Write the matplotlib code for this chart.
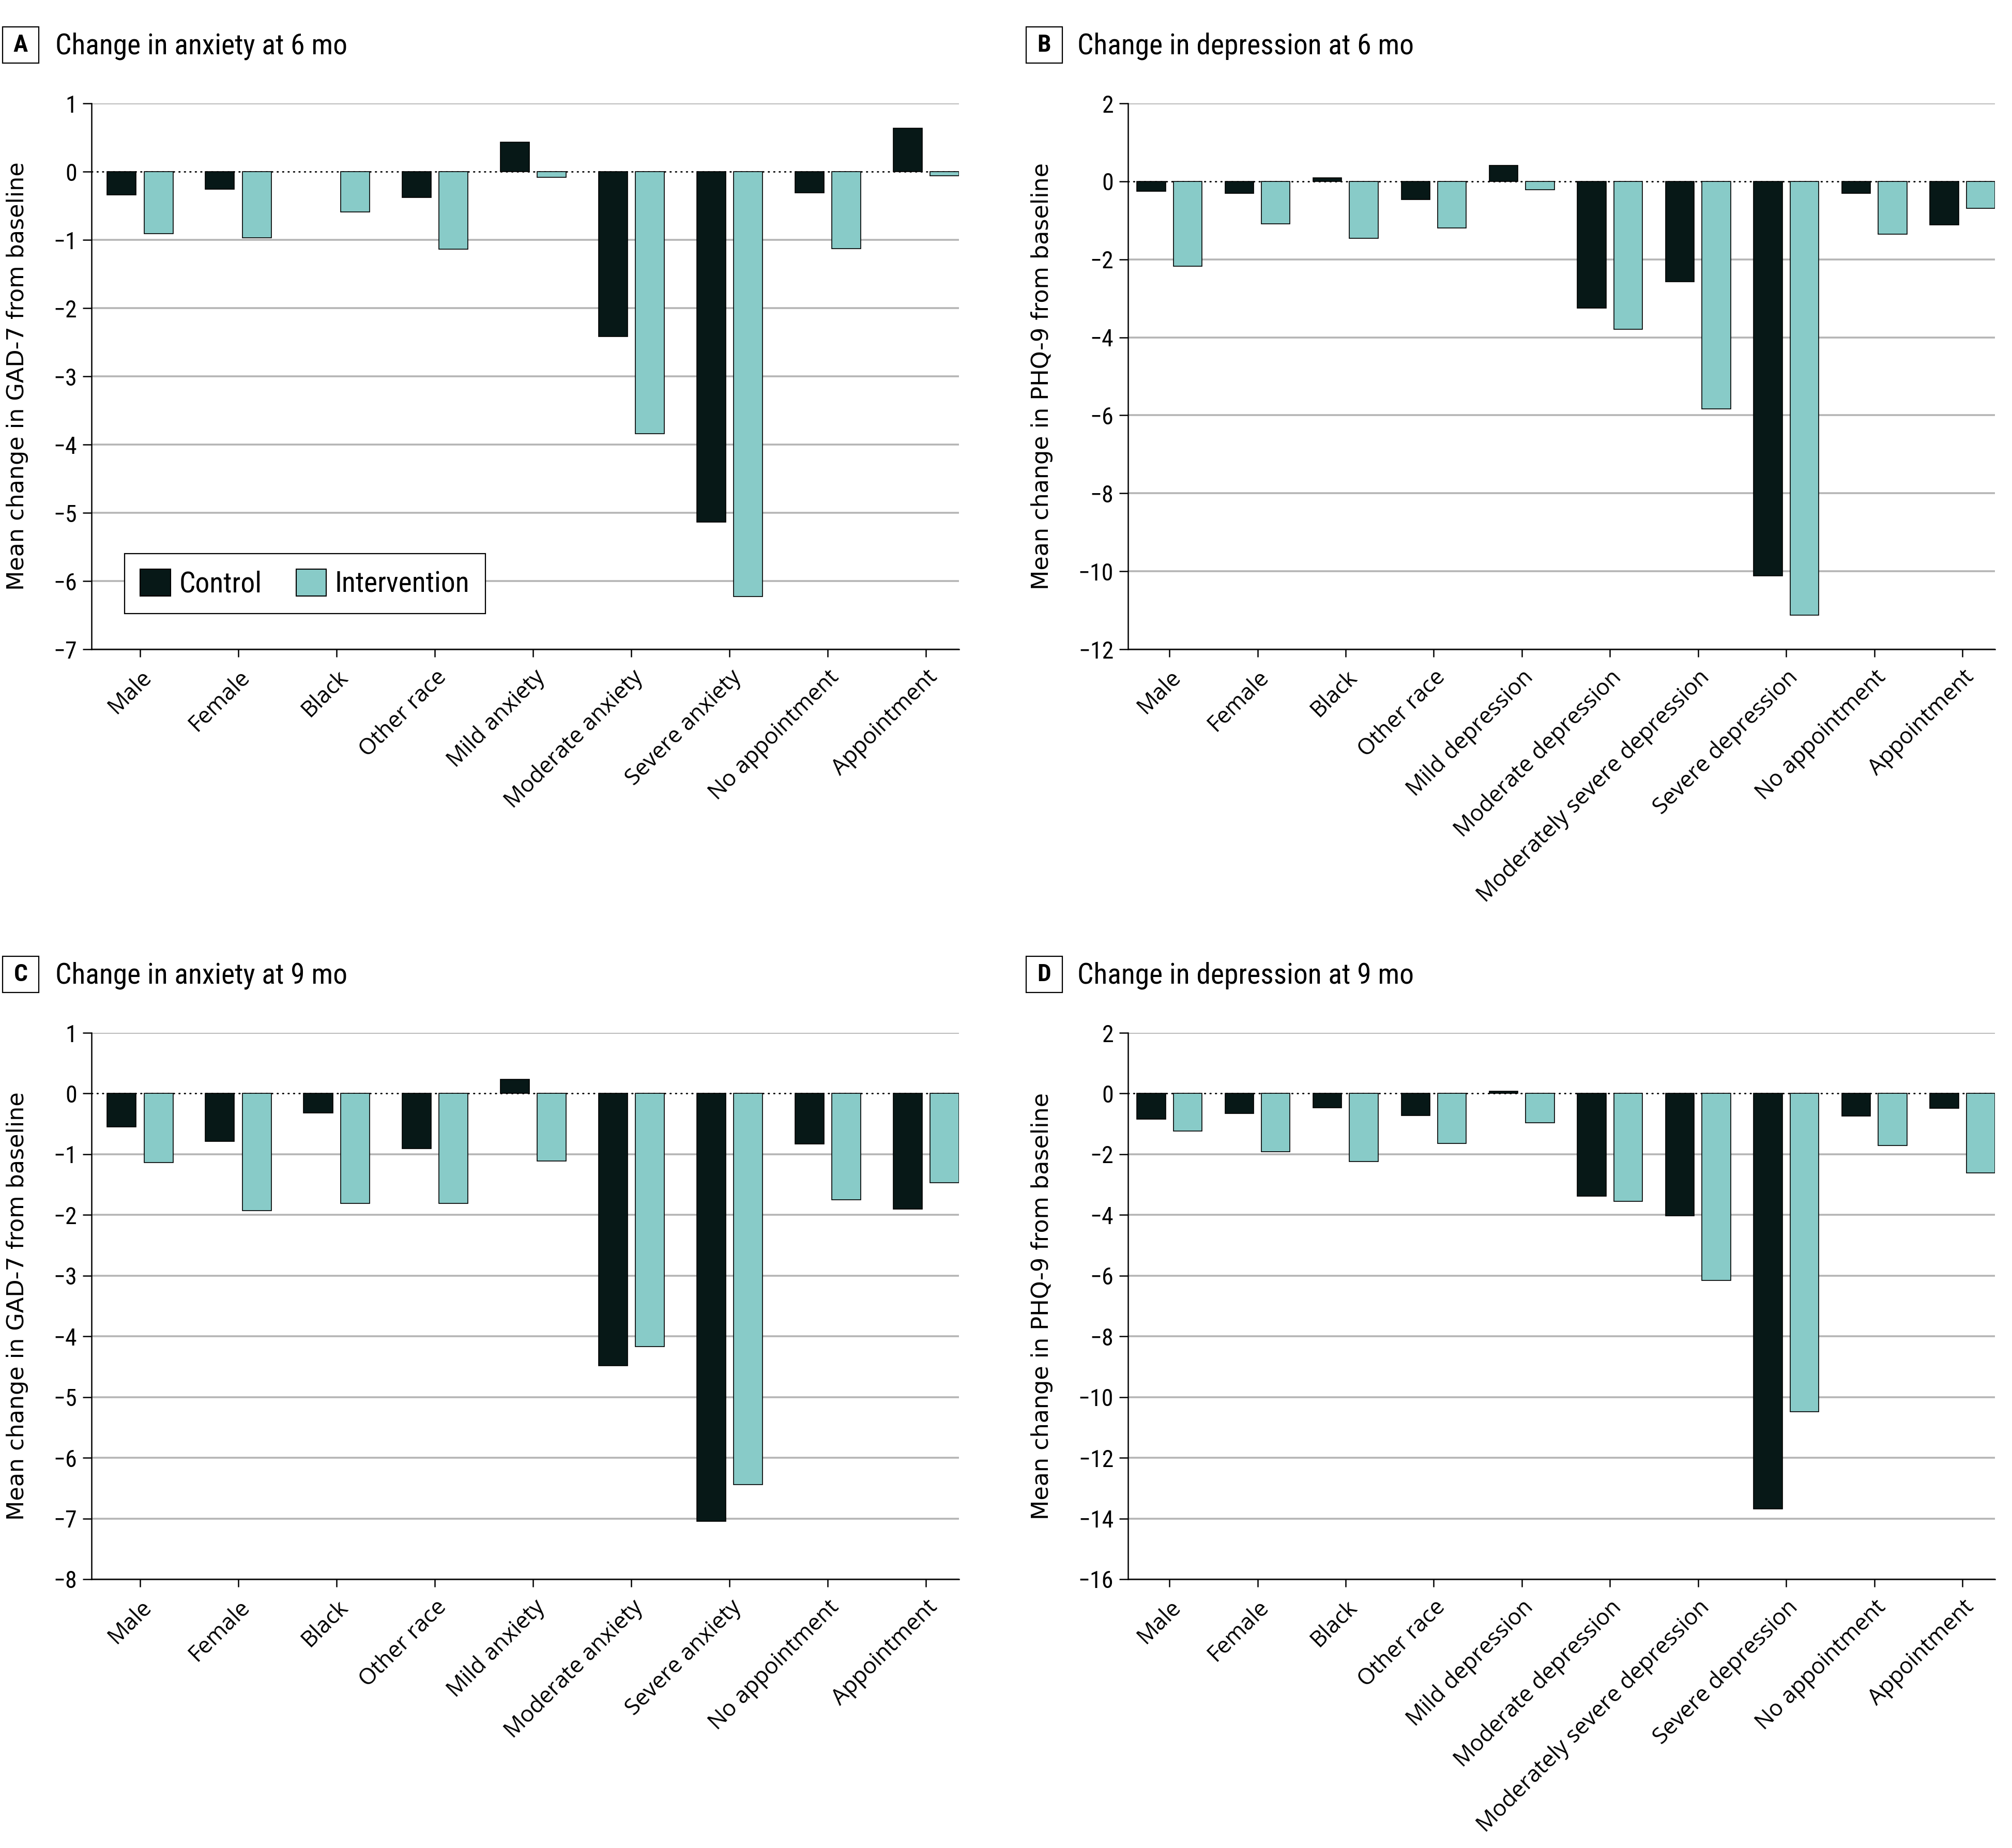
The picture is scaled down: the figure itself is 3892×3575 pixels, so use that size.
import numpy as np
import matplotlib
matplotlib.use("Agg")
import matplotlib.pyplot as plt
from matplotlib import font_manager
from matplotlib.patches import Rectangle, Patch

# categorias
anx_groups = ["Male", "Female", "Black", "Other race", "Mild anxiety",
              "Moderate anxiety", "Severe anxiety", "No appointment", "Appointment"]
dep_groups = ["Male", "Female", "Black", "Other race", "Mild depression",
              "Moderate depression", "Moderately severe depression",
              "Severe depression", "No appointment", "Appointment"]

# A: ansiedad a 6 meses (GAD-7)
anx6_control = [-0.34, -0.26, np.nan, -0.38, 0.43, -2.42, -5.14, -0.31, 0.64]
anx6_interv = [-0.91, -0.97, -0.59, -1.14, -0.08, -3.84, -6.23, -1.13, -0.06]
# B: depresion a 6 meses (PHQ-9)
dep6_control = [-0.26, -0.31, 0.09, -0.46, 0.41, -3.25, -2.57, -10.12, -0.31, -1.11]
dep6_interv = [-2.18, -1.09, -1.46, -1.20, -0.22, -3.79, -5.84, -11.12, -1.35, -0.69]
# C: ansiedad a 9 meses
anx9_control = [-0.55, -0.79, -0.32, -0.91, 0.23, -4.48, -7.05, -0.83, -1.90]
anx9_interv = [-1.14, -1.93, -1.81, -1.81, -1.11, -4.17, -6.44, -1.75, -1.47]
# D: depresion a 9 meses
dep9_control = [-0.85, -0.65, -0.47, -0.73, 0.07, -3.38, -4.02, -13.68, -0.75, -0.49]
dep9_interv = [-1.23, -1.92, -2.24, -1.65, -0.97, -3.55, -6.16, -10.48, -1.72, -2.61]

anx_ticks = [1, 0, -1, -2, -3, -4, -5, -6, -7]
anx9_ticks = [1, 0, -1, -2, -3, -4, -5, -6, -7, -8]
dep6_ticks = [2, 0, -2, -4, -6, -8, -10, -12]
dep9_ticks = [2, 0, -2, -4, -6, -8, -10, -12, -14, -16]

C_CONTROL = "#071817"
C_INTERV = "#88CBC8"
C_GRID = "#B5B5B5"

# fuentes
names = {f.name for f in font_manager.fontManager.ttflist}
COND = "DejaVu Sans"
for cand in ["Roboto Condensed", "Liberation Sans Narrow", "Open Sans Condensed"]:
    if cand in names:
        COND = cand
        break
XFONT = "Open Sans" if "Open Sans" in names else "DejaVu Sans"

W, H = 3892, 3575
DPI = 100
fig = plt.figure(figsize=(W / DPI, H / DPI), dpi=DPI)


def fmt(t):
    return f"{t:g}".replace("-", "\u2212")


def panel(left, top, right, bottom, groups, control, interv, ticks, ylabel,
          bar_w, off, xmin, ylab_x, letter, title, box_x, text_x, legend=False):
    ax = fig.add_axes([left / W, 1 - bottom / H, (right - left) / W, (bottom - top) / H])
    x = np.arange(len(groups))
    ax.bar(x - off, control, bar_w, color=C_CONTROL, edgecolor="black", linewidth=1.2,
           zorder=3, label="Control")
    ax.bar(x + off, interv, bar_w, color=C_INTERV, edgecolor="black", linewidth=1.2,
           zorder=3, label="Intervention")
    for t in ticks:
        if t == 0:
            ax.axhline(0, color="black", lw=2.0, linestyle=(0, (0.6, 3.2)),
                       dash_capstyle="round", zorder=2)
        else:
            ax.axhline(t, color=C_GRID, lw=2.6, zorder=1)
    ax.set_xlim(xmin, len(groups) - 1 + off + bar_w / 2)
    ax.set_ylim(min(ticks), max(ticks))
    ax.set_yticks(ticks, [fmt(t) for t in ticks], fontfamily=COND, fontsize=33)
    ax.set_xticks(x, groups, fontfamily=XFONT, fontsize=31.5, rotation=45,
                  ha="right", va="top", rotation_mode="anchor")
    ax.tick_params(axis="y", length=12, width=1.8, pad=8)
    ax.tick_params(axis="x", length=11, width=1.8, pad=12)
    for s in ["top", "right"]:
        ax.spines[s].set_visible(False)
    for s in ["left", "bottom"]:
        ax.spines[s].set_linewidth(1.8)
        ax.spines[s].set_zorder(4)
    ax.set_ylabel(ylabel, fontfamily="DejaVu Sans", fontsize=32)
    ax.yaxis.set_label_coords(ylab_x, 0.5)

    # titulo del panel con letra en recuadro
    fig.add_artist(Rectangle((box_x / W, 1 - (top - 78) / H), 70 / W, 70 / H,
                             transform=fig.transFigure, fill=False, lw=1.6,
                             edgecolor="black"))
    fig.text((box_x + 35) / W, 1 - (top - 113) / H, letter, ha="center",
             va="center", fontfamily=COND, fontweight="bold", fontsize=34)
    fig.text(text_x / W, 1 - (top - 95) / H, title, ha="left", va="baseline",
             fontfamily=COND, fontsize=40)

    if legend:
        handles = [Patch(facecolor=C_CONTROL, edgecolor="black", lw=1.5, label="Control"),
                   Patch(facecolor=C_INTERV, edgecolor="black", lw=1.5, label="Intervention")]
        leg = ax.legend(handles=handles, loc="lower left", bbox_to_anchor=(0.038, 0.065),
                        ncol=2, borderaxespad=0, fancybox=False, framealpha=1,
                        edgecolor="black", handlelength=1.05, handleheight=1.05,
                        handletextpad=0.3, columnspacing=1.2, borderpad=0.55,
                        prop={"family": COND, "size": 40})
        leg.get_frame().set_linewidth(1.6)
    return ax


panel(177, 200, 1855, 1256, anx_groups, anx6_control, anx6_interv, anx_ticks,
      "Mean change in GAD-7 from baseline", 0.295, 0.1875, -0.495, -0.073,
      "A", "Change in anxiety at 6 mo", 5, 107, legend=True)
panel(2182, 200, 3859, 1256, dep_groups, dep6_control, dep6_interv, dep6_ticks,
      "Mean change in PHQ-9 from baseline", 0.325, 0.2065, -0.47, -0.0865,
      "B", "Change in depression at 6 mo", 1985, 2084)
panel(177, 1998, 1855, 3055, anx_groups, anx9_control, anx9_interv, anx9_ticks,
      "Mean change in GAD-7 from baseline", 0.295, 0.1875, -0.495, -0.073,
      "C", "Change in anxiety at 9 mo", 5, 107)
panel(2182, 1998, 3859, 3055, dep_groups, dep9_control, dep9_interv, dep9_ticks,
      "Mean change in PHQ-9 from baseline", 0.325, 0.2065, -0.47, -0.0865,
      "D", "Change in depression at 9 mo", 1985, 2084)

fig.savefig("out.png", dpi=DPI, facecolor="white")
